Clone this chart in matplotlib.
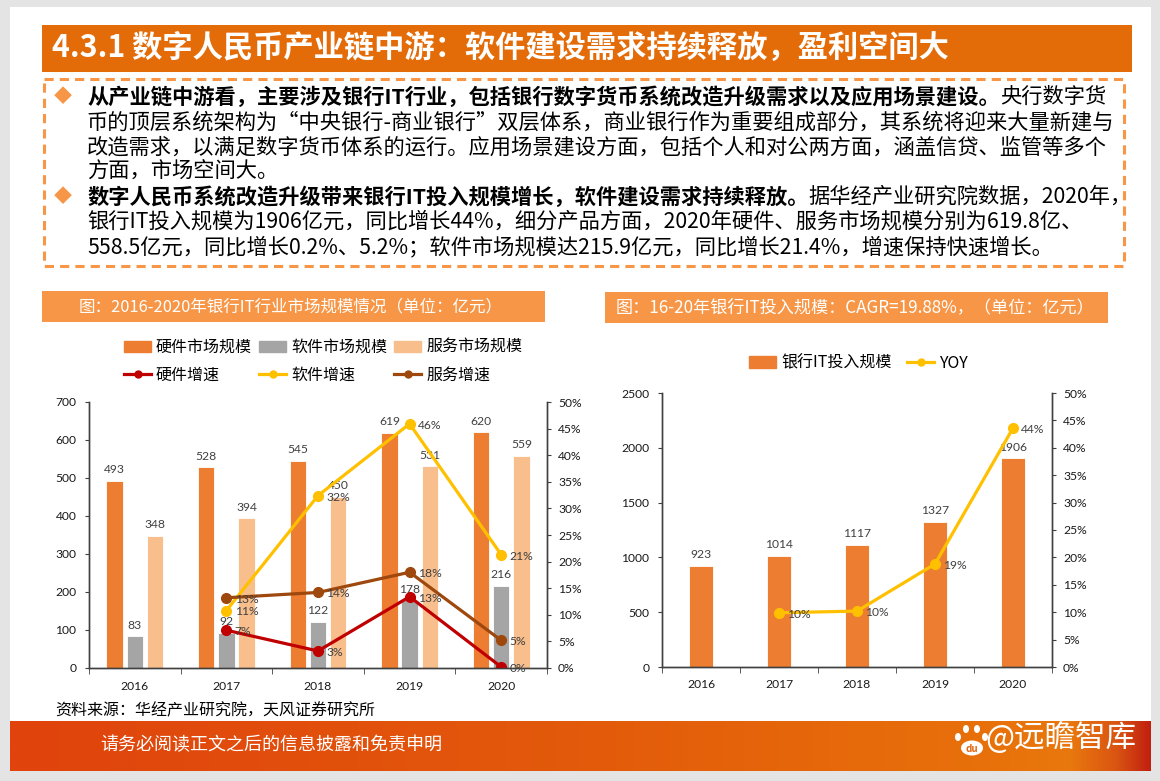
import matplotlib
matplotlib.use("Agg")
import matplotlib.pyplot as plt
from matplotlib.patches import Rectangle, Patch, Ellipse
from matplotlib.lines import Line2D
from matplotlib.colors import to_rgb
import numpy as np

plt.rcParams['font.family'] = ['Noto Sans CJK SC', 'DejaVu Sans']

W, H = 1160, 781

# ---- data ----
years = ["2016", "2017", "2018", "2019", "2020"]
hardware = [493, 528, 545, 619, 620]
software = [83, 92, 122, 178, 216]
service = [348, 394, 450, 531, 559]
hw_growth = [np.nan, 7.1, 3.2, 13.4, 0.2]
sw_growth = [np.nan, 10.8, 32.4, 45.9, 21.3]
sv_growth = [np.nan, 13.2, 14.2, 18.0, 5.2]

bank_it = [923, 1014, 1117, 1327, 1906]
yoy = [np.nan, 9.9, 10.2, 18.8, 43.6]

title = "4.3.1 数字人民币产业链中游：软件建设需求持续释放，盈利空间大"
body = [
    ("从产业链中游看，主要涉及银行IT行业，包括银行数字货币系统改造升级需求以及应用场景建设。", "央行数字货"),
    (None, "币的顶层系统架构为“中央银行-商业银行”双层体系，商业银行作为重要组成部分，其系统将迎来大量新建与"),
    (None, "改造需求，以满足数字货币体系的运行。应用场景建设方面，包括个人和对公两方面，涵盖信贷、监管等多个"),
    (None, "方面，市场空间大。"),
    ("数字人民币系统改造升级带来银行IT投入规模增长，软件建设需求持续释放。", "据华经产业研究院数据，2020年，"),
    (None, "银行IT投入规模为1906亿元，同比增长44%，细分产品方面，2020年硬件、服务市场规模分别为619.8亿、"),
    (None, "558.5亿元，同比增长0.2%、5.2%；软件市场规模达215.9亿元，同比增长21.4%，增速保持快速增长。"),
]
left_title = "图：2016-2020年银行IT行业市场规模情况（单位：亿元）"
right_title = "图：16-20年银行IT投入规模：CAGR=19.88%，（单位：亿元）"
source = "资料来源：华经产业研究院，天风证券研究所"
footer = "请务必阅读正文之后的信息披露和免责申明"
watermark = "@远瞻智库"

C_HW, C_SW, C_SV = "#ED7D31", "#A5A5A5", "#F8BE8C"
C_HWL, C_SWL, C_SVL = "#C00000", "#FFC000", "#9E480E"
ORANGE = "#F79646"
NUM_FONT = ["Lato", "DejaVu Sans"]


def box(x0, y0, x1, y1):
    return [x0 / W, 1 - y1 / H, (x1 - x0) / W, (y1 - y0) / H]


fig = plt.figure(figsize=(W / 100, H / 100), dpi=100, facecolor="#E4E4E4")

# background layer in pixel coordinates
bg = fig.add_axes([0, 0, 1, 1], zorder=0)
bg.set_xlim(0, W)
bg.set_ylim(H, 0)
bg.axis("off")

bg.add_patch(Rectangle((10, 7), 1141, 764, fc="white", ec="none"))
bg.add_patch(Rectangle((42, 25), 1090, 47, fc="#E36C09", ec="none"))
bg.text(52, 48, title, color="white", fontsize=21.8, fontweight="bold", va="center")

bg.add_patch(Rectangle((44, 79), 1080, 187, fill=False, ec=ORANGE, lw=2.2,
                       ls=(0, (3, 2))))
for i, (bold, normal) in enumerate(body):
    y = 97 + 25 * i
    if bold is not None:
        bg.text(63, y, "◆", color=ORANGE, fontsize=13, va="center", ha="center")
        t = bg.text(87, y, bold, fontsize=15.3, fontweight="bold", va="center")
        bg.annotate(normal, xy=(1, 0.5), xycoords=t, fontsize=15.3,
                    va="center", ha="left")
    else:
        bg.text(87, y, normal, fontsize=15.3, va="center")

# chart headers
bg.add_patch(Rectangle((42, 291), 503, 31, fc=ORANGE, ec="none"))
bg.text(291, 306.5, left_title, color="white", fontsize=11.9, ha="center", va="center")
bg.add_patch(Rectangle((605, 292), 503, 31, fc=ORANGE, ec="none"))
bg.text(855, 307.5, right_title, color="white", fontsize=12.3, ha="center", va="center")

bg.text(55, 711, source, fontsize=11.5, va="center")

# footer band with horizontal gradient
stops = [(0.0, "#E0430D"), (0.5, "#E35A0B"), (0.86, "#E8710A"),
         (0.93, "#E9780E"), (0.97, "#DA5512"), (1.0, "#C2200F")]
xs = np.linspace(0, 1, 600)
grad = np.zeros((1, 600, 3))
for k in range(3):
    grad[0, :, k] = np.interp(xs, [s[0] for s in stops],
                              [to_rgb(s[1])[k] for s in stops])
bg.imshow(grad, extent=(10, 1151, 771, 721), aspect="auto", zorder=1)
bg.set_xlim(0, W)
bg.set_ylim(H, 0)
bg.text(100, 745, footer, color="white", fontsize=13, va="center", zorder=3)
bg.text(985, 738, watermark, color="white", fontsize=22, va="center", zorder=3)
for cx, cy in [(958, 737), (966, 729), (977, 729), (985, 737)]:
    bg.add_patch(Ellipse((cx, cy), 6, 8, fc="white", ec="none", zorder=3))
bg.add_patch(Ellipse((972, 748), 22, 15, fc="white", ec="none", zorder=3))
bg.text(972, 749, "du", color="#E3650B", fontsize=7, fontweight="bold",
        ha="center", va="center", zorder=4)

x = np.arange(len(years))


def style_axes(ax, axr):
    ax.set_xlim(-0.5, len(years) - 0.5)
    ax.set_xticks(x)
    ax.set_xticklabels(years)
    ax.set_xticks(np.arange(-0.5, len(years), 1), minor=True)
    ax.tick_params(axis="x", which="major", length=0, pad=9)
    ax.tick_params(axis="x", which="minor", length=4, color="#404040")
    ax.tick_params(axis="y", length=3, pad=6, color="#404040")
    axr.tick_params(axis="y", length=3, pad=5, color="#404040")
    for a in (ax, axr):
        a.spines["top"].set_visible(False)
        for s in ("left", "right", "bottom"):
            a.spines[s].set_color("#404040")
            a.spines[s].set_linewidth(1.0)
        for lab in a.get_xticklabels() + a.get_yticklabels():
            lab.set_family(NUM_FONT)
            lab.set_fontsize(8.7)
            lab.set_color("#1a1a1a")
    axr.set_yticks(np.arange(0, 51, 5))
    axr.set_yticklabels([f"{v}%" for v in range(0, 51, 5)],
                        family=NUM_FONT, fontsize=8.7, color="#1a1a1a")
    axr.set_ylim(0, 50)


def pct_labels(axr, vals):
    for i, v in enumerate(vals):
        if np.isnan(v):
            continue
        axr.annotate(f"{v:.0f}%", (i, v), xytext=(6, -1), textcoords="offset points",
                     va="center", ha="left", fontsize=8.7, color="#404040",
                     family=NUM_FONT)


# ---- left chart ----
ax1 = fig.add_axes(box(89, 402, 547, 668), zorder=2)
ax1.patch.set_alpha(0)
w, off = 0.18, 0.22
b1 = ax1.bar(x - off, hardware, w, color=C_HW, edgecolor="white", linewidth=0.6)
b2 = ax1.bar(x, software, w, color=C_SW, edgecolor="white", linewidth=0.6)
b3 = ax1.bar(x + off, service, w, color=C_SV, edgecolor="white", linewidth=0.6)
for b in (b1, b2, b3):
    ax1.bar_label(b, fmt="{:.0f}", padding=4, fontsize=8.7, color="#404040",
                  family=NUM_FONT)
ax1.set_ylim(0, 700)
ax1.set_yticks(range(0, 701, 100))
ax1r = ax1.twinx()
for vals, c in ((hw_growth, C_HWL), (sw_growth, C_SWL), (sv_growth, C_SVL)):
    ax1r.plot(x, vals, color=c, lw=2.3, marker="o", markersize=7)
for vals in (hw_growth, sw_growth, sv_growth):
    pct_labels(ax1r, vals)
style_axes(ax1, ax1r)

handles = [Patch(color=C_HW), Line2D([], [], color=C_HWL, lw=2.3, marker="o", ms=5),
           Patch(color=C_SW), Line2D([], [], color=C_SWL, lw=2.3, marker="o", ms=5),
           Patch(color=C_SV), Line2D([], [], color=C_SVL, lw=2.3, marker="o", ms=5)]
labels = ["硬件市场规模", "硬件增速", "软件市场规模", "软件增速", "服务市场规模", "服务增速"]
fig.legend(handles, labels, ncol=3, loc="upper left", bbox_to_anchor=(124 / W, 1 - 339 / H),
           frameon=False, fontsize=11.5, handlelength=1.7, handletextpad=0.3,
           columnspacing=0.45, labelspacing=0.68, borderpad=0, borderaxespad=0)

# ---- right chart ----
ax2 = fig.add_axes(box(662, 393, 1052, 667), zorder=2)
ax2.patch.set_alpha(0)
b4 = ax2.bar(x, bank_it, 0.32, color=C_HW, edgecolor="white", linewidth=0.6)
ax2.bar_label(b4, fmt="{:.0f}", padding=4, fontsize=8.7, color="#404040",
              family=NUM_FONT)
ax2.set_ylim(0, 2500)
ax2.set_yticks(range(0, 2501, 500))
ax2r = ax2.twinx()
ax2r.plot(x, yoy, color=C_SWL, lw=2.3, marker="o", markersize=7)
pct_labels(ax2r, yoy)
style_axes(ax2, ax2r)

fig.legend([Patch(color=C_HW), Line2D([], [], color=C_SWL, lw=2.3, marker="o", ms=5)],
           ["银行IT投入规模", "YOY"], ncol=2, loc="center left",
           bbox_to_anchor=(749 / W, 1 - 363 / H), frameon=False, fontsize=11.5,
           handlelength=1.7, handletextpad=0.3, columnspacing=1.0,
           borderpad=0, borderaxespad=0)

fig.savefig("out.png", dpi=100, facecolor=fig.get_facecolor())
